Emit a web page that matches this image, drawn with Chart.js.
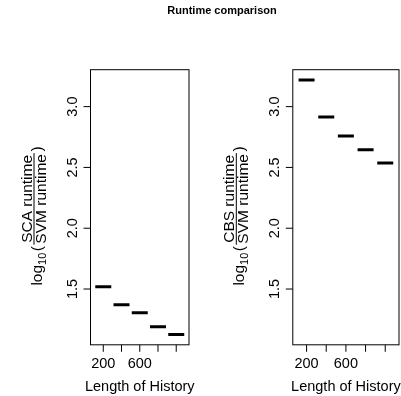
<!DOCTYPE html>
<html>
<head>
<meta charset="utf-8">
<title>Runtime comparison</title>
<script src="https://cdn.jsdelivr.net/npm/chart.js@4.4.1/dist/chart.umd.min.js"></script>
<style>
  html, body { margin: 0; padding: 0; background: #fff; }
  #page { position: relative; width: 401px; height: 396px; overflow: hidden; }
  #title {
    position: absolute; top: 4px; left: 122px; width: 200px;
    text-align: center; font: bold 11px "Liberation Sans", Arial, sans-serif;
    line-height: 13px; color: #000;
  }
  canvas { position: absolute; top: 0; }
  #scaChart { left: 0; }
  #cbsChart { left: 200px; }
</style>
</head>
<body>
<div id="page">
  <canvas id="scaChart" width="200" height="396"></canvas>
  <canvas id="cbsChart" width="210" height="396"></canvas>
  <div id="title">Runtime comparison</div>
</div>
<script>
// median log10 runtime ratio for each history length
const historyLengths = [200, 400, 600, 800, 1000];
const xTickLabels = ['200', '', '600', '', ''];
const yTicks = [1.5, 2.0, 2.5, 3.0];
const scaRatio = [1.519, 1.371, 1.305, 1.190, 1.125];
const cbsRatio = [3.220, 2.915, 2.759, 2.646, 2.537];

const FONT = '"Liberation Sans", Arial, sans-serif';

// boxplot-style ranges: half a slot either side, then 4% extra
const step = historyLengths[1] - historyLengths[0];
const xLo = historyLengths[0] - step / 2;
const xHi = historyLengths[historyLengths.length - 1] + step / 2;
const xPad = 0.04 * (xHi - xLo);
const allY = scaRatio.concat(cbsRatio);
const yLo = Math.min(...allY), yHi = Math.max(...allY);
const yPad = 0.04 * (yHi - yLo);

// frame, outward ticks and rotated labels drawn from the chart scales
const boxAxes = {
    id: 'boxAxes',
    afterDraw(chart, args, opts) {
        const ctx = chart.ctx;
        const a = chart.chartArea;
        const x = chart.scales.x, y = chart.scales.y;
        ctx.save();
        ctx.strokeStyle = '#000';
        ctx.fillStyle = '#000';
        ctx.lineWidth = 1;
        ctx.strokeRect(a.left, a.top, a.right - a.left, a.bottom - a.top);

        // x axis
        ctx.font = '14.5px ' + FONT;
        ctx.textAlign = 'center';
        ctx.textBaseline = 'alphabetic';
        historyLengths.forEach((v, i) => {
            const px = x.getPixelForValue(v);
            ctx.beginPath();
            ctx.moveTo(px, a.bottom);
            ctx.lineTo(px, a.bottom + 7);
            ctx.stroke();
            if (xTickLabels[i]) ctx.fillText(xTickLabels[i], px, a.bottom + 23.2);
        });
        ctx.fillText('Length of History', (a.left + a.right) / 2, a.bottom + 45.7);

        // y axis
        yTicks.forEach(v => {
            const py = y.getPixelForValue(v);
            ctx.beginPath();
            ctx.moveTo(a.left - 7, py);
            ctx.lineTo(a.left, py);
            ctx.stroke();
            ctx.save();
            ctx.translate(a.left - 13.5, py);
            ctx.rotate(-Math.PI / 2);
            ctx.fillText(v.toFixed(1), 0, 0);
            ctx.restore();
        });

        // log10(numerator / denominator) title
        const F = 15.5;
        const main = F + 'px ' + FONT;
        const sub = (F * 0.7) + 'px ' + FONT;
        const gap = 1.5;
        ctx.font = main;
        const wLog = ctx.measureText('log').width;
        const wParen = ctx.measureText('(').width;
        const wNum = ctx.measureText(opts.numerator).width;
        const wDen = ctx.measureText(opts.denominator).width;
        const wFrac = Math.max(wNum, wDen) + 2;
        ctx.font = sub;
        const wSub = ctx.measureText('10').width;
        const total = wLog + wSub + wParen + wFrac + wParen + 4 * gap;

        ctx.save();
        ctx.translate(a.left - 49, (a.top + a.bottom) / 2 + 8);
        ctx.rotate(-Math.PI / 2);
        ctx.textAlign = 'left';
        let u = -total / 2;
        ctx.font = main;
        ctx.fillText('log', u, 0);
        u += wLog;
        ctx.font = sub;
        ctx.fillText('10', u, 4);
        u += wSub + gap;
        ctx.font = main;
        ctx.fillText('(', u, 0);
        u += wParen + gap;
        ctx.textAlign = 'center';
        ctx.fillText(opts.numerator, u + wFrac / 2, -9.5);
        ctx.fillText(opts.denominator, u + wFrac / 2, 4.5);
        ctx.fillRect(u, -8, wFrac, 1);
        u += wFrac + gap;
        ctx.textAlign = 'left';
        ctx.fillText(')', u, 0);
        ctx.restore();

        ctx.restore();
    }
};

function makePanel(canvasId, values, numerator, areaLeft, areaRight) {
    const canvas = document.getElementById(canvasId);
    return new Chart(canvas, {
        type: 'scatter',
        data: {
            datasets: [{
                data: historyLengths.map((len, i) => ({ x: len, y: values[i] })),
                pointStyle: 'line',
                pointRadius: 8,
                pointHoverRadius: 8,
                borderWidth: 3,
                borderColor: '#000',
                backgroundColor: '#000'
            }]
        },
        options: {
            responsive: false,
            animation: false,
            events: [],
            layout: {
                padding: { left: areaLeft, right: canvas.width - areaRight, top: 69.7, bottom: 51.2 }
            },
            plugins: {
                legend: { display: false },
                tooltip: { enabled: false },
                boxAxes: { numerator: numerator, denominator: 'SVM runtime' }
            },
            scales: {
                x: { type: 'linear', display: false, min: xLo - xPad, max: xHi + xPad },
                y: { type: 'linear', display: false, min: yLo - yPad, max: yHi + yPad }
            }
        },
        plugins: [boxAxes]
    });
}

makePanel('scaChart', scaRatio, 'SCA runtime', 90.5, 198.5);
makePanel('cbsChart', cbsRatio, 'CBS runtime', 92.8, 200.8);
</script>
</body>
</html>
